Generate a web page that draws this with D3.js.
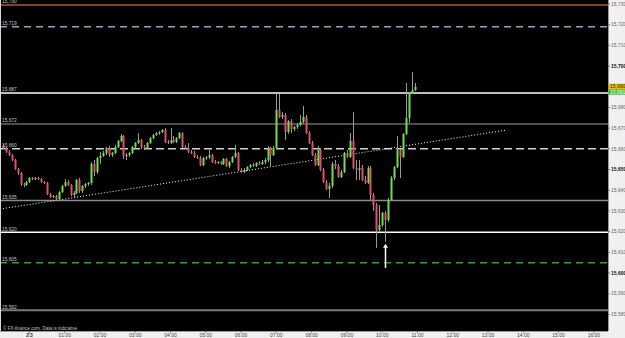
<!DOCTYPE html>
<html><head><meta charset="utf-8">
<script src="https://cdn.jsdelivr.net/npm/d3@7"></script>
<style>html,body{margin:0;padding:0;background:#fff;overflow:hidden}svg{display:block}</style>
</head><body>
<script>
// ---------- DATA ----------
const times = [
"22 23:15","22 23:20","22 23:25","22 23:30","22 23:35","22 23:40","22 23:45","22 23:50","22 23:55",
"23 00:00","23 00:05","23 00:10","23 00:15","23 00:20","23 00:25","23 00:30","23 00:35","23 00:40","23 00:45","23 00:50","23 00:55",
"23 01:00","23 01:05","23 01:10","23 01:15","23 01:20","23 01:25","23 01:30","23 01:35","23 01:40","23 01:45","23 01:50","23 01:55",
"23 02:00","23 02:05","23 02:10","23 02:15","23 02:20","23 02:25","23 02:30","23 02:35","23 02:40","23 02:45","23 02:50","23 02:55",
"23 03:00","23 03:05","23 03:10","23 03:15","23 03:20","23 03:25","23 03:30","23 03:35","23 03:40","23 03:45","23 03:50","23 03:55",
"23 04:00","23 04:05","23 04:10","23 04:15","23 04:20","23 04:25","23 04:30","23 04:35","23 04:40","23 04:45","23 04:50","23 04:55",
"23 05:00","23 05:05","23 05:10","23 05:15","23 05:20","23 05:25","23 05:30","23 05:35","23 05:40","23 05:45","23 05:50","23 05:55",
"23 06:00","23 06:05","23 06:10","23 06:15","23 06:20","23 06:25","23 06:30","23 06:35","23 06:40","23 06:45","23 06:50","23 06:55",
"23 07:00","23 07:05","23 07:10","23 07:15","23 07:20","23 07:25","23 07:30","23 07:35","23 07:40","23 07:45","23 07:50","23 07:55",
"23 08:00","23 08:05","23 08:10","23 08:15","23 08:20","23 08:25","23 08:30","23 08:35","23 08:40","23 08:45","23 08:50","23 08:55",
"23 09:00","23 09:05","23 09:10","23 09:15","23 09:20","23 09:25","23 09:30","23 09:35","23 09:40","23 09:45","23 09:50","23 09:55",
"23 10:00","23 10:05","23 10:10","23 10:15","23 10:20","23 10:25","23 10:30","23 10:35","23 10:40","23 10:45","23 10:50","23 10:55"
];
const open = [
15661.9,15660.4,15658.5,15657.0,15654.6,15650.3,15648.3,15643.0,15642.5,
15644.0,15645.9,15645.4,15645.9,15645.4,15644.0,15643.5,15638.2,15636.7,15637.2,15635.8,15639.1,
15642.1,15644.0,15642.5,15637.7,15638.7,15644.9,15639.6,15642.1,15643.0,15643.5,15652.7,15648.8,
15655.6,15656.5,15658.0,15660.4,15657.0,15658.0,15660.9,15663.8,15666.2,15656.5,15657.0,15658.0,
15660.9,15662.8,15664.3,15660.9,15660.4,15662.8,15665.2,15666.7,15667.6,15668.1,15669.1,15663.3,
15662.8,15664.3,15663.3,15665.2,15667.6,15660.9,15660.4,15658.5,15658.0,15656.1,15655.6,15652.2,
15655.6,15655.9,15657.0,15653.6,15653.1,15653.6,15652.7,15655.1,15651.7,15653.6,15656.1,15658.0,
15649.8,15648.8,15649.8,15651.2,15652.2,15651.7,15653.1,15652.7,15653.6,15654.6,15660.4,15657.0,
15660.4,15678.8,15675.4,15676.3,15668.1,15673.4,15669.6,15670.5,15671.5,15673.0,15675.4,15667.6,
15662.8,15657.0,15652.2,15659.4,15649.8,15644.0,15640.6,15642.1,15652.7,15651.7,15646.4,15648.8,
15658.0,15656.1,15663.8,15650.7,15649.8,15650.7,15644.9,15643.5,15650.7,15637.7,15632.9,15620.8,
15623.2,15629.0,15625.6,15635.3,15645.9,15651.2,15659.4,15656.1,15667.2,15674.9,15687.0,15688.4
];
const high = [
15662.3,15660.9,15659.4,15657.5,15655.1,15650.7,15648.8,15643.5,15644.5,
15646.4,15646.4,15646.4,15646.4,15645.9,15644.5,15644.0,15638.7,15637.7,15637.7,15639.6,15642.5,
15645.4,15644.9,15643.0,15639.6,15645.4,15645.9,15642.5,15643.5,15644.0,15653.6,15654.6,15656.1,
15658.5,15659.0,15660.9,15661.4,15658.5,15661.9,15664.3,15667.2,15666.7,15658.0,15658.5,15661.4,
15663.3,15667.6,15664.7,15661.9,15663.3,15665.7,15667.2,15668.1,15668.6,15669.6,15670.1,15664.3,
15670.1,15666.2,15665.7,15668.1,15668.1,15661.9,15662.8,15659.4,15659.0,15657.0,15656.5,15656.1,
15656.5,15659.4,15657.5,15654.6,15654.1,15654.1,15655.6,15655.6,15654.1,15656.5,15661.9,15658.5,
15650.7,15650.7,15651.7,15652.7,15653.1,15653.6,15654.1,15654.6,15655.6,15661.4,15660.9,15661.4,
15686.5,15686.5,15677.8,15677.3,15673.9,15674.4,15671.0,15672.5,15676.3,15680.7,15676.3,15668.6,
15663.8,15658.0,15661.4,15660.4,15650.7,15644.9,15643.5,15653.6,15654.6,15652.7,15649.8,15658.5,
15659.4,15667.6,15677.8,15654.6,15654.6,15652.2,15646.9,15651.7,15651.7,15638.7,15633.8,15632.9,
15629.5,15630.0,15636.3,15646.9,15651.7,15666.2,15659.9,15667.6,15691.8,15687.5,15697.1,15691.8
];
const low = [
15659.9,15658.0,15656.5,15654.1,15649.8,15647.4,15642.1,15641.6,15642.1,
15643.5,15644.9,15644.9,15644.9,15643.5,15643.0,15637.7,15636.3,15636.3,15634.8,15635.3,15638.7,
15641.6,15642.1,15637.2,15636.7,15638.2,15638.7,15638.7,15641.1,15642.1,15642.5,15646.9,15647.8,
15652.7,15656.1,15657.0,15656.1,15656.1,15657.5,15660.4,15663.3,15655.1,15654.6,15656.1,15657.5,
15660.4,15662.3,15659.9,15659.4,15659.9,15662.3,15664.7,15666.2,15666.7,15667.6,15662.8,15662.3,
15662.3,15662.8,15662.8,15664.7,15660.4,15659.9,15658.0,15657.5,15655.6,15655.1,15651.7,15651.7,
15654.6,15655.1,15653.1,15652.7,15652.7,15652.2,15652.2,15651.2,15650.7,15653.1,15655.6,15649.3,
15648.3,15648.3,15649.3,15650.7,15651.2,15651.2,15652.2,15652.2,15652.7,15653.6,15651.7,15656.5,
15659.9,15674.9,15674.4,15664.3,15667.2,15667.6,15668.6,15669.6,15671.0,15672.0,15667.2,15662.3,
15656.5,15651.7,15651.7,15649.3,15643.5,15640.1,15636.3,15641.1,15650.3,15645.9,15645.9,15648.3,
15655.6,15655.6,15650.3,15644.9,15644.9,15644.5,15643.0,15643.0,15635.3,15630.0,15612.1,15619.8,
15622.3,15615.0,15624.6,15634.8,15644.9,15650.7,15645.9,15655.6,15666.7,15672.5,15686.5,15687.9
];
const close = [
15660.4,15658.5,15657.0,15654.6,15650.3,15648.3,15643.0,15642.5,15644.0,
15645.9,15645.4,15645.9,15645.4,15644.0,15643.5,15638.2,15636.7,15637.2,15635.8,15639.1,15642.1,
15644.0,15642.5,15637.7,15638.7,15644.9,15639.6,15642.1,15643.0,15643.5,15652.7,15648.8,15655.6,
15656.5,15658.0,15660.4,15657.0,15658.0,15660.9,15663.8,15666.2,15656.5,15657.0,15658.0,15660.9,
15662.8,15664.3,15660.9,15660.4,15662.8,15665.2,15666.7,15667.6,15668.1,15669.1,15663.3,15662.8,
15664.3,15663.3,15665.2,15667.6,15660.9,15660.4,15658.5,15658.0,15656.1,15655.6,15652.2,15655.6,
15655.9,15657.0,15653.6,15653.1,15653.6,15652.7,15655.1,15651.7,15653.6,15656.1,15658.0,15649.8,
15648.8,15649.8,15651.2,15652.2,15651.7,15653.1,15652.7,15653.6,15654.6,15660.4,15657.0,15660.4,
15678.8,15675.4,15676.3,15668.1,15673.4,15669.6,15670.5,15671.5,15673.0,15675.4,15667.6,15662.8,
15657.0,15652.2,15659.4,15649.8,15644.0,15640.6,15642.1,15652.7,15651.7,15646.4,15648.8,15658.0,
15656.1,15663.8,15650.7,15649.8,15650.7,15644.9,15643.5,15650.7,15637.7,15632.9,15620.8,15623.2,
15629.0,15625.6,15635.3,15645.9,15651.2,15659.4,15656.1,15667.2,15674.9,15687.0,15688.4,15689.9
];
// horizontal levels
const levelValues = [15729.5, 15719, 15687, 15672, 15660, 15635, 15619.7, 15605, 15582];
const levelLabels = ["15,730","15,719","15,687","15,672","15,660","15,635","15,620","15,605","15,582"];
// price axis ticks
const yTickValues = [15730,15720,15710,15700,15690,15680,15670,15660,15650,15640,15630,15620,15610,15600,15590,15580];
const yTickLabels = ["15,730","15,720","15,710","15,700","15,690","15,680","15,670","15,660","15,650","15,640","15,630","15,620","15,610","15,600","15,590","15,580"];
// time axis ticks
const xTickTimes = ["23 00:00","23 01:00","23 02:00","23 03:00","23 04:00","23 05:00","23 06:00","23 07:00","23 08:00","23 09:00","23 10:00","23 11:00","23 12:00","23 13:00","23 14:00","23 15:00","23 16:00"];
const xTickLabels = ["23","01:00","02:00","03:00","04:00","05:00","06:00","07:00","08:00","09:00","10:00","11:00","12:00","13:00","14:00","15:00","16:00"];
// trend line & arrow
const trendTimes = ["22 23:10","23 13:32"];
const trendValues = [15630.9, 15669.1];
const arrowTime = "23 10:05";
const arrowValues = [15602.4, 15614.2];
const bidAsk = [15690, 15691];
const bidAskLabels = ["15,690","15,691"];
const footer = "\u00A9 FX-finance.com, Data is indicative";

// ---------- DRAW ----------
const W = 625, H = 338, plotR = 608, plotB = 331;
const parse = d3.timeParse("%d %H:%M");
const x = d3.scaleTime().domain([parse("22 23:10"), parse("23 16:24")]).range([0, plotR]);
const y = d3.scaleLinear().domain([15572, 15731.9]).range([plotB, 0]);
const FONT = "'Liberation Sans', Arial, sans-serif";

const svg = d3.select("body").append("svg").attr("width", W).attr("height", H);
svg.append("rect").attr("width", W).attr("height", H).attr("fill", "#f0f0f0");
svg.append("rect").attr("x", 0).attr("y", 0).attr("width", plotR).attr("height", plotB).attr("fill", "#000");

const levelStyle = [
  {c:"#b4553a", w:1.5, d:null},
  {c:"#8aa8c4", w:1.5, d:"7,5"},
  {c:"#ffffff", w:1.5, d:null},
  {c:"#9a9a9a", w:1, d:null},
  {c:"#d0d0d0", w:1.5, d:"8,4"},
  {c:"#8a8a8a", w:1.5, d:null},
  {c:"#ffffff", w:1.5, d:null},
  {c:"#3c9a3c", w:1.5, d:"7,5"},
  {c:"#7a7a7a", w:2, d:null}
];
const gL = svg.append("g");
levelValues.forEach((v, i) => {
  const s = levelStyle[i];
  gL.append("line").attr("x1", 0).attr("x2", plotR).attr("y1", y(v)).attr("y2", y(v))
    .attr("stroke", s.c).attr("stroke-width", s.w).attr("stroke-dasharray", s.d);
});

// trend line
svg.append("line")
  .attr("x1", x(parse(trendTimes[0]))).attr("y1", y(trendValues[0]))
  .attr("x2", x(parse(trendTimes[1]))).attr("y2", y(trendValues[1]))
  .attr("stroke", "#fff").attr("stroke-width", 1).attr("stroke-dasharray", "1,2");

// candles
const candles = times.map((t, i) => ({t: parse(t), o: open[i], h: high[i], l: low[i], c: close[i]}));
const gC = svg.append("g");
candles.forEach(d => {
  const cx = Math.round(x(d.t));
  gC.append("line").attr("x1", cx + 0.5).attr("x2", cx + 0.5).attr("y1", y(d.h)).attr("y2", y(d.l))
    .attr("stroke", "#9a9a9a").attr("stroke-width", 1);
  const top = y(Math.max(d.o, d.c)), bot = y(Math.min(d.o, d.c));
  const col = d.c > d.o ? "#6ee04a" : (d.c < d.o ? "#e0506e" : "#bbbbbb");
  gC.append("rect").attr("x", cx - 0.5).attr("width", 2).attr("y", top)
    .attr("height", Math.max(1, bot - top)).attr("fill", col);
});

// level labels on left
levelValues.forEach((v, i) => {
  svg.append("text").attr("x", 2).attr("y", y(v) - 1.5).text(levelLabels[i])
    .attr("font-family", FONT).attr("font-size", 4.8).attr("fill", "#c8c8c8");
});

// arrow
const ax = Math.round(x(parse(arrowTime))) + 0.5;
svg.append("line").attr("x1", ax).attr("x2", ax).attr("y1", y(arrowValues[0])).attr("y2", y(arrowValues[1]) + 2)
  .attr("stroke", "#fff").attr("stroke-width", 1.5);
const ay = y(arrowValues[1]);
svg.append("path").attr("d", `M${ax},${ay} L${ax-2.5},${ay+4} L${ax+2.5},${ay+4} Z`).attr("fill", "#fff");

// footer
svg.append("text").attr("x", 3).attr("y", 329.5).text(footer)
  .attr("font-family", FONT).attr("font-size", 4.6).attr("fill", "#c0c0c0");

// left border
svg.append("line").attr("x1", 0.5).attr("x2", 0.5).attr("y1", 0).attr("y2", plotB).attr("stroke", "#d8d8d8");

// right axis
svg.append("line").attr("x1", plotR + 0.5).attr("x2", plotR + 0.5).attr("y1", 0).attr("y2", plotB).attr("stroke", "#999");
yTickValues.forEach((v, i) => {
  const yy = y(v);
  const bold = v % 50 === 0;
  svg.append("line").attr("x1", plotR).attr("x2", plotR + 2).attr("y1", yy).attr("y2", yy).attr("stroke", "#777");
  svg.append("text").attr("x", plotR + 3).attr("y", yy).attr("dy", "0.35em").text(yTickLabels[i])
    .attr("font-family", FONT).attr("font-size", 5).attr("font-weight", bold ? "bold" : "normal")
    .attr("fill", bold ? "#111" : "#666");
});
// bid / ask boxes
const by = y(bidAsk[0]);
svg.append("rect").attr("x", plotR + 1).attr("y", by - 3).attr("width", 17).attr("height", 5.5).attr("fill", "#e6c200");
svg.append("text").attr("x", plotR + 2).attr("y", by - 0.2).attr("dy", "0.3em").text(bidAskLabels[0])
  .attr("font-family", FONT).attr("font-size", 5).attr("fill", "#222");
svg.append("rect").attr("x", plotR + 1).attr("y", by + 2.5).attr("width", 17).attr("height", 5.5).attr("fill", "#45b545");
svg.append("text").attr("x", plotR + 2).attr("y", by + 5.3).attr("dy", "0.3em").text(bidAskLabels[1])
  .attr("font-family", FONT).attr("font-size", 5).attr("fill", "#fff");

// bottom axis
svg.append("line").attr("x1", 0).attr("x2", plotR).attr("y1", plotB + 0.5).attr("y2", plotB + 0.5).attr("stroke", "#999");
xTickTimes.forEach((t, i) => {
  const xx = x(parse(t));
  svg.append("line").attr("x1", xx).attr("x2", xx).attr("y1", plotB).attr("y2", plotB + 2).attr("stroke", "#777");
  svg.append("text").attr("x", xx).attr("y", 337).attr("text-anchor", "middle").text(xTickLabels[i])
    .attr("font-family", FONT).attr("font-size", i === 0 ? 6 : 5).attr("font-weight", i === 0 ? "bold" : "normal")
    .attr("fill", "#444");
});
</script>
</body></html>
